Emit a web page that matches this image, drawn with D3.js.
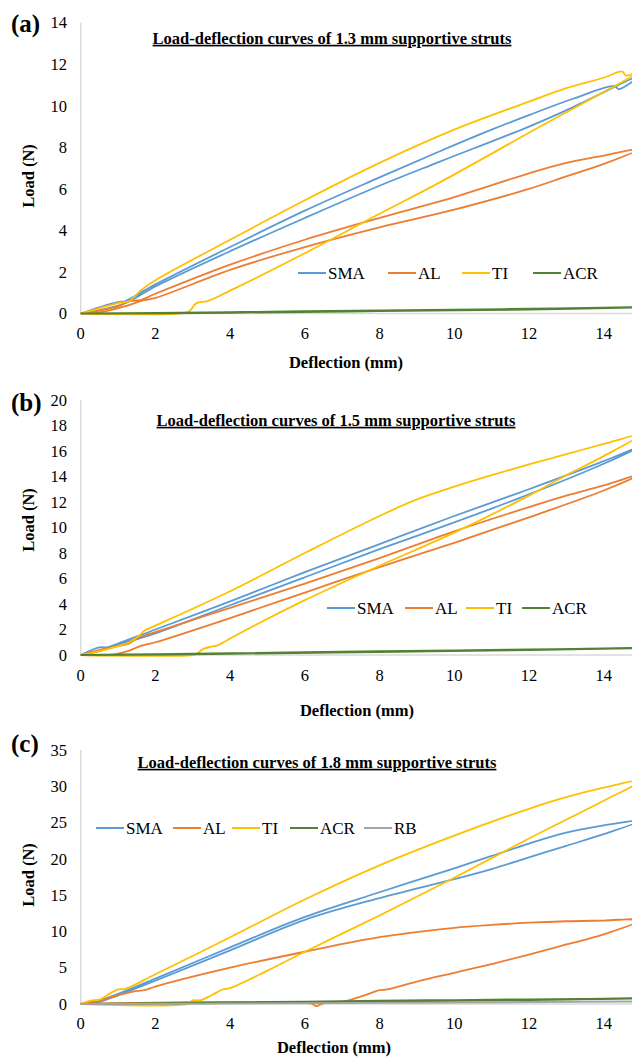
<!DOCTYPE html>
<meta charset="utf-8">
<script src="https://d3js.org/d3.v7.min.js"></script>
<style>
  body { margin: 0; background: #fff; }
  text { font-family: "Liberation Serif", "Times New Roman", serif; fill: #000; }
</style>
<div id="chart"></div>
<script>
// ---- data, each series = loading then unloading ----
var seriesNames = ["SMA", "AL", "TI", "ACR", "RB"];
var xTicks = [0, 2, 4, 6, 8, 10, 12, 14];
var yTicksA = [0, 2, 4, 6, 8, 10, 12, 14];
var yTicksB = [0, 2, 4, 6, 8, 10, 12, 14, 16, 18, 20];
var yTicksC = [0, 5, 10, 15, 20, 25, 30, 35];

// panel (a) 1.3 mm
var smaA = [[0,0],[0.5,0.3],[1,0.55],[1.2,0.6],[1.7,1.1],[2,1.4],[4,3.2],[6,4.95],[8,6.55],[9.6,7.8],[11,8.85],[12,9.55],[13.2,10.35],[14.3,10.95],[14.4,10.8],[15,11.5],
            [13.2,9.95],[12,9.0],[9.6,7.3],[8,6.15],[6,4.6],[4,3.0],[2,1.3],[1.2,0.5],[0.5,0.15],[0,0]];
var alA  = [[0,0],[0.5,0.15],[1,0.35],[1.3,0.6],[1.6,0.65],[2,0.95],[4,2.35],[6,3.55],[8,4.6],[10,5.6],[12,6.75],[13,7.25],[14,7.6],[15,7.95],
            [14,7.2],[13,6.6],[12,6.0],[10,5.0],[8,4.15],[6,3.2],[4,2.1],[2,0.75],[1.6,0.6],[1.2,0.35],[0.5,0.05],[0,0]];
var tiA  = [[0,0],[0.5,0.25],[1,0.5],[1.3,0.6],[1.6,1.1],[2,1.6],[4,3.55],[6,5.45],[8,7.25],[10,8.85],[12,10.2],[13,10.85],[14,11.35],[14.5,11.65],[14.6,11.45],[15,11.7],
            [12,8.7],[9.6,6.3],[8,4.8],[6,2.9],[4,1.1],[3.4,0.6],[3.1,0.5],[2.9,0.1],[2.6,0],[0,0]];
var acrA = [[0,0],[2,0.02],[4,0.06],[6,0.1],[8,0.14],[10,0.18],[12,0.22],[14,0.27],[15,0.3],
            [12,0.2],[8,0.12],[4,0.04],[0,0]];

// panel (b) 1.5 mm
var smaB = [[0,0],[0.5,0.6],[0.7,0.6],[1,0.9],[2,2.0],[4,4.2],[6,6.5],[8,8.7],[10,10.9],[12,13.0],[14,15.2],[15,16.4],
            [14,15.0],[12,12.6],[10,10.4],[8,8.3],[6,6.1],[4,3.9],[2,1.7],[1,0.8],[0.5,0.3],[0,0]];
var alB  = [[0,0],[0.5,0.4],[1,0.7],[1.3,0.9],[1.5,1.3],[2,1.8],[4,3.7],[6,5.6],[8,7.6],[10,9.7],[12,11.6],[13,12.5],[14,13.3],[15,14.2],
            [14,12.9],[12,10.8],[10,8.8],[8,6.9],[6,4.9],[4,2.9],[2,1.0],[1.8,0.85],[1.6,0.7],[1.3,0.35],[1,0.1],[0.8,0],[0,0]];
var tiB  = [[0,0],[0.5,0.3],[1,0.7],[1.3,1.0],[1.6,1.6],[1.7,1.9],[2,2.3],[4,5.0],[6,8.0],[8,10.9],[9,12.2],[10,13.2],[11,14.1],[12,14.95],[13,15.75],[14,16.55],[15,17.3],
            [14,15.6],[13,14.1],[12,12.5],[10,9.6],[8,7.0],[6,4.3],[4,1.3],[3.7,0.8],[3.5,0.65],[3.3,0.5],[3.1,0.1],[3.0,0],[0,0]];
var acrB = [[0,0],[2,0.05],[4,0.12],[6,0.2],[8,0.28],[10,0.35],[12,0.42],[14,0.5],[15,0.55],
            [12,0.4],[8,0.25],[4,0.1],[0,0]];

// panel (c) 1.8 mm
var smaC = [[0,0],[0.5,0.5],[1,1.4],[2,3.5],[4,7.8],[6,12.0],[8,15.4],[10,18.7],[11,20.4],[12,22.1],[13,23.6],[14,24.6],[15,25.3],
            [14,23.4],[13,21.8],[12,20.2],[11,18.6],[10,17.2],[8,14.6],[6,11.6],[4,7.4],[2,3.2],[1,1.2],[0.5,0.3],[0,0]];
var alC  = [[0,0],[0.5,0.5],[1,1.2],[1.5,1.8],[1.7,1.9],[2,2.4],[4,5.0],[6,7.2],[8,9.2],[10,10.5],[11,10.9],[12,11.2],[13,11.4],[14,11.5],[15,11.6],
            [14,9.6],[13,8.2],[12,6.8],[11,5.5],[10,4.3],[9,3.1],[8.2,2.0],[8,1.9],[7.6,1.2],[7,0.3],[6.5,0.1],[6.3,-0.3],[6.2,0],[0,0]];
var tiC  = [[0,0],[0.3,0.5],[0.5,0.6],[0.8,1.5],[1,2.0],[1.2,2.1],[2,4.1],[4,9.2],[6,14.4],[8,19.1],[10,23.2],[12,26.9],[13,28.5],[14,29.8],[15,30.8],
            [14,28.0],[12,22.8],[10,17.4],[8,12.2],[6,7.2],[5,4.6],[4,2.2],[3.8,2.0],[3.5,1.2],[3.2,0.5],[3.0,0.5],[2.85,0],[0,0]];
var acrC = [[0,0],[2,0.08],[4,0.2],[6,0.3],[8,0.42],[10,0.52],[12,0.62],[14,0.72],[15,0.8],
            [12,0.55],[8,0.35],[4,0.15],[0,0]];
var rbC  = [[0,0],[3,0.05],[6,0.12],[9,0.2],[12,0.28],[15,0.35],
            [10,0.2],[5,0.08],[0,0]];

var colors = { SMA: "#5B9BD5", AL: "#ED7D31", TI: "#FFC000", ACR: "#548235", RB: "#A5A5A5" };

var W = 632, H = 1059;
var svg = d3.select("#chart").append("svg")
    .attr("width", W)
    .attr("height", H);

var x = d3.scaleLinear().domain([0, 15]).range([80.7, 641]);

function drawPanel(p) {
  var y = d3.scaleLinear().domain(p.yDomain).range([p.y0, p.y1]);
  var g = svg.append("g");

  // axes lines (light grey, no ticks)
  g.append("line")
    .attr("x1", x(0)).attr("x2", x(0))
    .attr("y1", y(p.yDomain[1])).attr("y2", y(0))
    .attr("stroke", "#d9d9d9").attr("stroke-width", 1.5);
  g.append("line")
    .attr("x1", x(0)).attr("x2", W)
    .attr("y1", y(0)).attr("y2", y(0))
    .attr("stroke", "#d9d9d9").attr("stroke-width", 1.5);

  // tick labels
  g.selectAll(".yt").data(p.yTicks).enter().append("text")
    .attr("x", 67).attr("y", function(d) { return y(d); })
    .attr("dy", "0.35em")
    .attr("text-anchor", "end")
    .style("font-size", "16.5px")
    .text(function(d) { return d; });
  g.selectAll(".xt").data(xTicks).enter().append("text")
    .attr("x", function(d) { return x(d); }).attr("y", p.xLabY)
    .attr("dy", "0.35em")
    .attr("text-anchor", "middle")
    .style("font-size", "16.5px")
    .text(function(d) { return d; });

  // lines
  var line = d3.line()
    .x(function(d) { return x(d[0]); })
    .y(function(d) { return y(d[1]); })
    .curve(d3.curveCatmullRom.alpha(0.5));
  p.series.forEach(function(s) {
    g.append("path")
      .datum(s.data)
      .attr("d", line)
      .attr("fill", "none")
      .attr("stroke", colors[s.name])
      .attr("stroke-width", s.name == "ACR" ? 2.2 : 1.8)
      .attr("stroke-linejoin", "round");
  });

  // title
  g.append("text")
    .attr("x", p.titleX).attr("y", p.titleY)
    .attr("dy", "0.35em")
    .attr("text-anchor", "middle")
    .style("font-size", "16.5px").style("font-weight", "bold")
    .style("text-decoration", "underline")
    .text(p.title);

  // panel letter
  g.append("text")
    .attr("x", 11).attr("y", p.letterY)
    .attr("dy", "0.35em")
    .style("font-size", "25px").style("font-weight", "bold")
    .text(p.letter);

  // axis titles
  g.append("text")
    .attr("transform", "translate(28," + p.loadY + ") rotate(-90)")
    .attr("dy", "0.35em")
    .attr("text-anchor", "middle")
    .style("font-size", "16.5px").style("font-weight", "bold")
    .text("Load (N)");
  g.append("text")
    .attr("x", p.deflX).attr("y", p.deflY)
    .attr("dy", "0.35em")
    .attr("text-anchor", "middle")
    .style("font-size", "16.5px").style("font-weight", "bold")
    .text("Deflection (mm)");

  // legend
  p.legend.forEach(function(l, i) {
    g.append("line")
      .attr("x1", l[0]).attr("x2", l[0] + 28)
      .attr("y1", p.legY).attr("y2", p.legY)
      .attr("stroke", colors[seriesNames[i]]).attr("stroke-width", 2);
    g.append("text")
      .attr("x", l[0] + 30).attr("y", p.legY)
      .attr("dy", "0.35em")
      .style("font-size", "17px")
      .text(seriesNames[i]);
  });
}

drawPanel({
  letter: "(a)", letterY: 23,
  yDomain: [0, 14], y0: 313.5, y1: 22.7, yTicks: yTicksA,
  xLabY: 333, deflX: 346, deflY: 362, loadY: 176,
  title: "Load-deflection curves of 1.3 mm supportive struts", titleX: 332, titleY: 38,
  series: [{name: "SMA", data: smaA}, {name: "AL", data: alA}, {name: "TI", data: tiA}, {name: "ACR", data: acrA}],
  legY: 273, legend: [[298], [388], [462], [533]]
});

drawPanel({
  letter: "(b)", letterY: 402,
  yDomain: [0, 20], y0: 655, y1: 400, yTicks: yTicksB,
  xLabY: 675, deflX: 357, deflY: 710, loadY: 520,
  title: "Load-deflection curves of 1.5 mm supportive struts", titleX: 336, titleY: 420,
  series: [{name: "SMA", data: smaB}, {name: "AL", data: alB}, {name: "TI", data: tiB}, {name: "ACR", data: acrB}],
  legY: 608, legend: [[327], [405], [466], [522]]
});

drawPanel({
  letter: "(c)", letterY: 743,
  yDomain: [0, 35], y0: 1004, y1: 750, yTicks: yTicksC,
  xLabY: 1023, deflX: 334, deflY: 1047, loadY: 875,
  title: "Load-deflection curves of 1.8 mm supportive struts", titleX: 317, titleY: 762,
  series: [{name: "SMA", data: smaC}, {name: "AL", data: alC}, {name: "TI", data: tiC}, {name: "ACR", data: acrC}, {name: "RB", data: rbC}],
  legY: 828, legend: [[96], [173], [232], [290], [364]]
});
</script>
